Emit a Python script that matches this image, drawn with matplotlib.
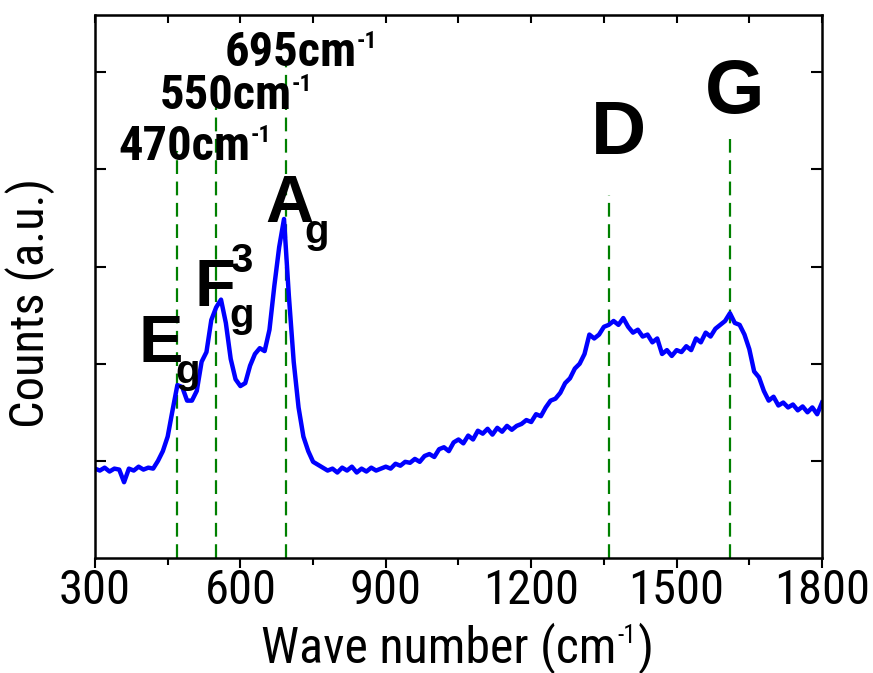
import numpy as np
import matplotlib
matplotlib.use("Agg")
import matplotlib.pyplot as plt

narrow = ['Roboto Condensed', 'Liberation Sans', 'DejaVu Sans']
wide = ['Liberation Sans', 'DejaVu Sans']
plt.rcParams['font.family'] = narrow

# spectrum (cm-1, a.u.)
wavenumber = np.arange(300, 1801, 10)
counts = [
    0.92, 0.90, 0.93, 0.89, 0.92, 0.91, 0.78, 0.92, 0.90, 0.94,  # 300-390
    0.91, 0.93, 0.92, 1.00, 1.10, 1.25, 1.52, 1.78, 1.76, 1.62,  # 400-490
    1.62, 1.72, 2.02, 2.12, 2.45, 2.58, 2.66, 2.42, 2.05, 1.84,  # 500-590
    1.77, 1.80, 1.98, 2.10, 2.16, 2.13, 2.35, 2.80, 3.20, 3.49,  # 600-690
    2.70, 2.02, 1.55, 1.25, 1.10, 0.99, 0.96, 0.93, 0.90, 0.92,  # 700-790
    0.88, 0.93, 0.90, 0.94, 0.88, 0.92, 0.89, 0.93, 0.90, 0.92,  # 800-890
    0.94, 0.92, 0.97, 0.95, 0.99, 0.98, 1.02, 0.99, 1.05, 1.07,  # 900-990
    1.04, 1.12, 1.14, 1.10, 1.19, 1.22, 1.18, 1.26, 1.22, 1.31,  # 1000-1090
    1.28, 1.33, 1.27, 1.34, 1.30, 1.36, 1.32, 1.36, 1.38, 1.42,  # 1100-1190
    1.40, 1.48, 1.46, 1.55, 1.62, 1.64, 1.70, 1.80, 1.85, 1.95,  # 1200-1290
    2.00, 2.10, 2.30, 2.26, 2.30, 2.38, 2.40, 2.44, 2.40, 2.47,  # 1300-1390
    2.38, 2.32, 2.35, 2.28, 2.30, 2.22, 2.26, 2.10, 2.14, 2.08,  # 1400-1490
    2.14, 2.12, 2.18, 2.14, 2.26, 2.22, 2.32, 2.28, 2.36, 2.40,  # 1500-1590
    2.44, 2.52, 2.42, 2.40, 2.30, 2.15, 1.92, 1.86, 1.72, 1.62,  # 1600-1690
    1.66, 1.57, 1.60, 1.55, 1.58, 1.52, 1.56, 1.50, 1.55, 1.48,  # 1700-1790
    1.60,                                                        # 1800
]

# peak positions and height of the dashed markers
peak_pos = [470, 550, 695, 1360, 1610]
peak_top = [4.19, 4.70, 5.06, 3.74, 4.31]

fig = plt.figure(figsize=(8.73, 6.73), dpi=100)
ax = fig.add_axes([0.1088, 0.1709, 0.8328, 0.8068])

ax.vlines(peak_pos, 0, peak_top, colors='#008000', lw=1.6,
          linestyles=(0, (6.2, 3.4)))
ax.plot(wavenumber, counts, color='#0000ff', lw=3.2)

ax.set_xlim(300, 1800)
ax.set_ylim(0, 5.59)
ax.set_xticks(np.arange(300, 1801, 300))
ax.set_xticks(np.arange(450, 1800, 300), minor=True)
ax.set_yticks([1, 2, 3, 4, 5])
ax.set_yticklabels([])
ax.tick_params(axis='x', which='major', direction='out', length=7, width=1.5,
               labelsize=35, pad=0)
ax.tick_params(axis='x', which='minor', direction='out', length=5, width=1.5)
ax.tick_params(axis='y', direction='in', length=8, width=1.5, right=True)
for sp in ax.spines.values():
    sp.set_linewidth(1.8)

top = ax.secondary_xaxis('top')
top.set_xticks(np.arange(300, 1801, 150))
top.tick_params(direction='in', length=6, width=1.5, labeltop=False)

# axis labels (superscript drawn as its own text)
xl_y = -0.193
t1 = ax.text(0.228, xl_y, 'Wave number (cm', transform=ax.transAxes,
             ha='left', va='baseline', fontsize=36)
t2 = ax.annotate('-1', xy=(1, xl_y), xycoords=(t1, ax.transAxes),
                 xytext=(1, 14), textcoords='offset points',
                 ha='left', va='baseline', fontsize=18)
ax.annotate(')', xy=(1, xl_y), xycoords=(t2, ax.transAxes),
            xytext=(1, 0), textcoords='offset points',
            ha='left', va='baseline', fontsize=36)
ax.text(-0.089, 0.47, 'Counts (a.u.)', transform=ax.transAxes, rotation=90,
        ha='center', va='center', fontsize=35)

# wavenumber labels
cm_labels = [('470cm', 349, 4.10),
             ('550cm', 434, 4.62),
             ('695cm', 568, 5.06)]
for txt, x0, y0 in cm_labels:
    t = ax.text(x0, y0, txt, fontsize=35, fontweight='bold', family=narrow,
                ha='left', va='baseline')
    ax.annotate('-1', xy=(1, y0), xycoords=(t, ax.transData),
                xytext=(0, 13), textcoords='offset points',
                fontsize=17, fontweight='bold', family=narrow,
                ha='left', va='baseline')

# mode labels
ax.text(389, 2.015, 'E', fontsize=48, fontweight='bold', family=wide, va='baseline')
ax.text(465, 1.80, 'g', fontsize=29, fontweight='bold', family=wide, va='baseline')
ax.text(506, 2.59, 'F', fontsize=48, fontweight='bold', family=wide, va='baseline')
ax.text(578, 2.94, '3', fontsize=29, fontweight='bold', family=wide, va='baseline')
ax.text(578, 2.375, 'g', fontsize=29, fontweight='bold', family=wide, va='baseline')
ax.text(651, 3.455, 'A', fontsize=48, fontweight='bold', family=wide, va='baseline')
ax.text(733, 3.24, 'g', fontsize=29, fontweight='bold', family=wide, va='baseline')
ax.text(1323, 4.154, 'D', fontsize=55, fontweight='bold', family=wide, va='baseline')
ax.text(1558, 4.586, 'G', fontsize=55, fontweight='bold', family=wide, va='baseline')

fig.savefig('out.png', dpi=100)
